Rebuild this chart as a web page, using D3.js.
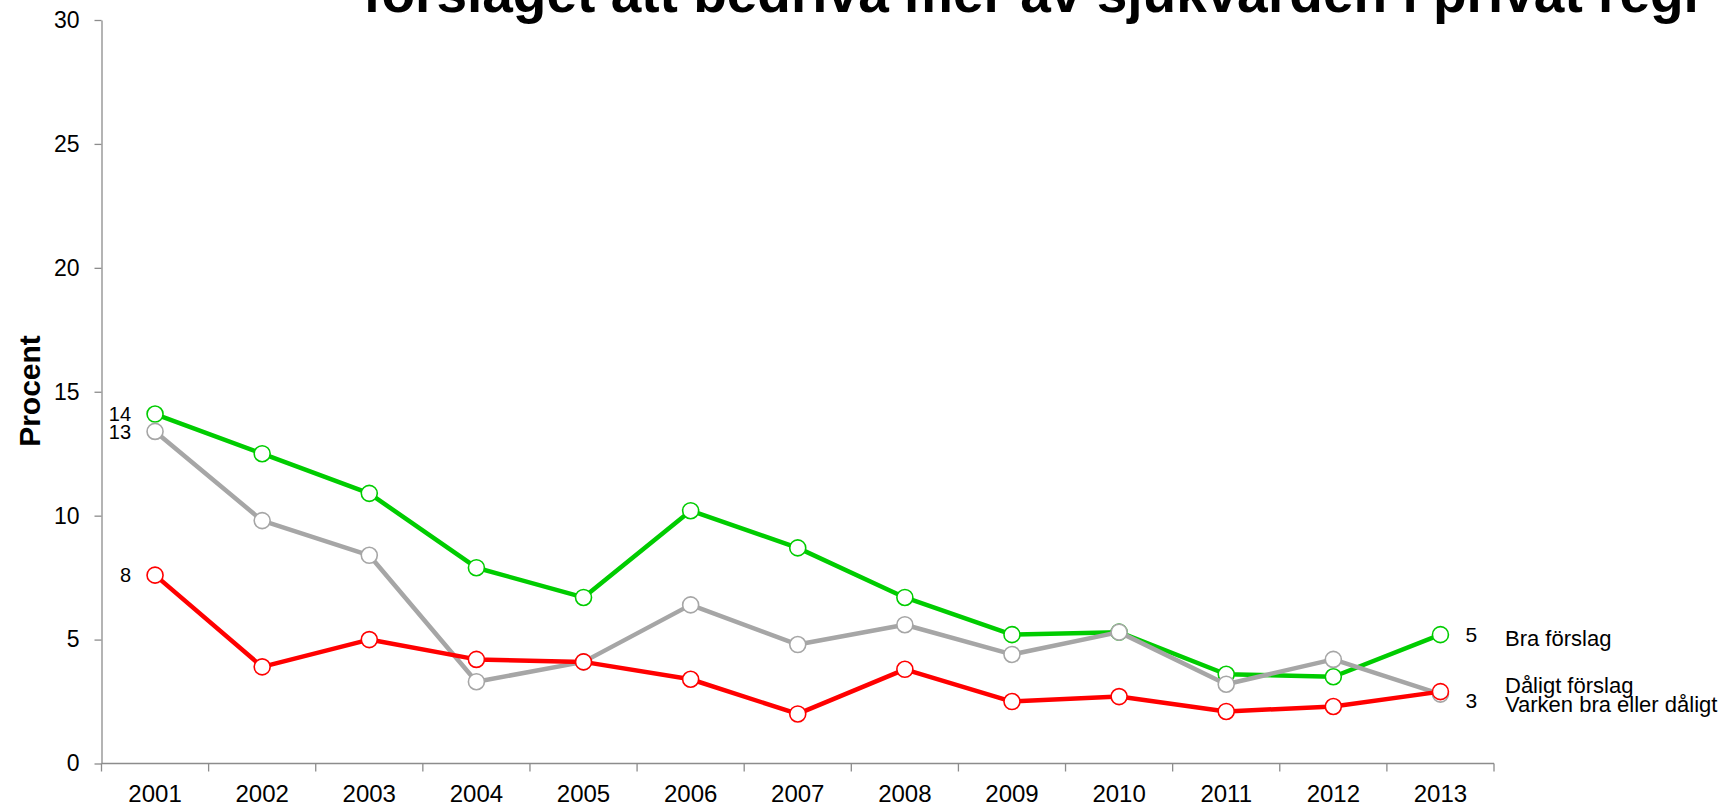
<!DOCTYPE html>
<html>
<head>
<meta charset="utf-8">
<script src="https://cdn.jsdelivr.net/npm/d3@7"></script>
<style>
	body { margin: 0; background: #fff; }
	text { font-family: "Liberation Sans", Arial, sans-serif; fill: #000; }
</style>
</head>
<body>
<svg id="chart" width="1730" height="805"></svg>
<script>
"use strict";

// data
const years = ["2001", "2002", "2003", "2004", "2005", "2006", "2007", "2008", "2009", "2010", "2011", "2012", "2013"];
const braForslag   = [14.1, 12.5, 10.9, 7.9, 6.7, 10.2, 8.7, 6.7, 5.2, 5.3, 3.6, 3.5, 5.2];
const varkenEller  = [13.4, 9.8, 8.4, 3.3, 4.1, 6.4, 4.8, 5.6, 4.4, 5.3, 3.2, 4.2, 2.8];
const daligtForslag = [7.6, 3.9, 5.0, 4.2, 4.1, 3.4, 2.0, 3.8, 2.5, 2.7, 2.1, 2.3, 2.9];
const yTicks = [0, 5, 10, 15, 20, 25, 30];
const titleText = "förslaget att bedriva mer av sjukvården i privat regi";
const yLabel = "Procent";

const series = [
	{ name: "Bra förslag", values: braForslag, color: "#00cc00", nameDy: 3 },
	{ name: "Varken bra eller dåligt", values: varkenEller, color: "#a6a6a6", nameDy: 10 },
	{ name: "Dåligt förslag", values: daligtForslag, color: "#ff0000", nameDy: -7 }
];

const svg = d3.select("#chart");
const plotLeft = 101.5, plotRight = 1494, plotTop = 20, plotBottom = 763.5;

const x = d3.scaleBand().domain(years).range([plotLeft, plotRight]).paddingInner(0).paddingOuter(0);
const y = d3.scaleLinear().domain([0, 30]).range([plotBottom, plotTop]);
const cx = d => x(d) + x.bandwidth() / 2;

// title (first line falls outside the picture)
svg.append("text")
	.attr("x", 1031)
	.attr("y", 12)
	.attr("text-anchor", "middle")
	.style("font-size", "55px")
	.style("font-weight", "bold")
	.text(titleText);

// y axis
const yAxis = svg.append("g")
	.attr("transform", `translate(${plotLeft},0)`)
	.call(d3.axisLeft(y).tickValues(yTicks).tickSize(7).tickPadding(15).tickSizeOuter(0));
yAxis.select(".domain").attr("stroke", "#8c8c8c").attr("stroke-width", 1.3);
yAxis.selectAll(".tick line").attr("stroke", "#8c8c8c").attr("stroke-width", 1.3);
yAxis.selectAll(".tick text").style("font-size", "23px").attr("fill", "#000");

// x axis: line, ticks on band edges, labels at band centres
const xAxis = svg.append("g");
xAxis.append("line")
	.attr("x1", plotLeft).attr("x2", plotRight)
	.attr("y1", plotBottom).attr("y2", plotBottom)
	.attr("stroke", "#8c8c8c").attr("stroke-width", 1.3);
const edges = years.map(d => x(d)).concat([x(years[years.length - 1]) + x.bandwidth()]);
xAxis.selectAll(".xtick")
	.data(edges)
	.enter()
	.append("line")
	.attr("x1", d => d).attr("x2", d => d)
	.attr("y1", plotBottom).attr("y2", plotBottom + 8)
	.attr("stroke", "#8c8c8c").attr("stroke-width", 1.3);
xAxis.selectAll(".xlabel")
	.data(years)
	.enter()
	.append("text")
	.attr("x", d => cx(d))
	.attr("y", plotBottom + 38.5)
	.attr("text-anchor", "middle")
	.style("font-size", "24px")
	.text(d => d);

// y axis title
svg.append("text")
	.attr("transform", "translate(40,391) rotate(-90)")
	.attr("text-anchor", "middle")
	.style("font-size", "30px")
	.style("font-weight", "bold")
	.text(yLabel);

// lines and markers
const line = d3.line()
	.x((d, i) => cx(years[i]))
	.y(d => y(d));

for (let s of series) {
	let g = svg.append("g");
	g.append("path")
		.datum(s.values)
		.attr("d", line)
		.attr("fill", "none")
		.attr("stroke", s.color)
		.attr("stroke-width", 4.5)
		.attr("stroke-linejoin", "round");
	g.selectAll("circle")
		.data(s.values)
		.enter()
		.append("circle")
		.attr("cx", (d, i) => cx(years[i]))
		.attr("cy", d => y(d))
		.attr("r", 8)
		.attr("fill", "#fff")
		.attr("stroke", s.color)
		.attr("stroke-width", 1.6);
}

// value labels at start
const first = years[0], last = years[years.length - 1];
for (let s of series) {
	svg.append("text")
		.attr("x", cx(first) - 24)
		.attr("y", y(s.values[0]))
		.attr("dy", "0.36em")
		.attr("text-anchor", "end")
		.style("font-size", "20px")
		.text(Math.round(s.values[0]));
}

// value labels at end (the two lower ones overlap, only one shown)
svg.append("text")
	.attr("x", cx(last) + 25)
	.attr("y", y(braForslag[braForslag.length - 1]))
	.attr("dy", "0.36em")
	.style("font-size", "21px")
	.text(Math.round(braForslag[braForslag.length - 1]));
svg.append("text")
	.attr("x", cx(last) + 25)
	.attr("y", y(varkenEller[varkenEller.length - 1]) + 6)
	.attr("dy", "0.36em")
	.style("font-size", "21px")
	.text(Math.round(varkenEller[varkenEller.length - 1]));

// series names
for (let s of series) {
	svg.append("text")
		.attr("x", 1505)
		.attr("y", y(s.values[s.values.length - 1]) + s.nameDy)
		.attr("dy", "0.36em")
		.style("font-size", "22px")
		.text(s.name);
}
</script>
</body>
</html>
